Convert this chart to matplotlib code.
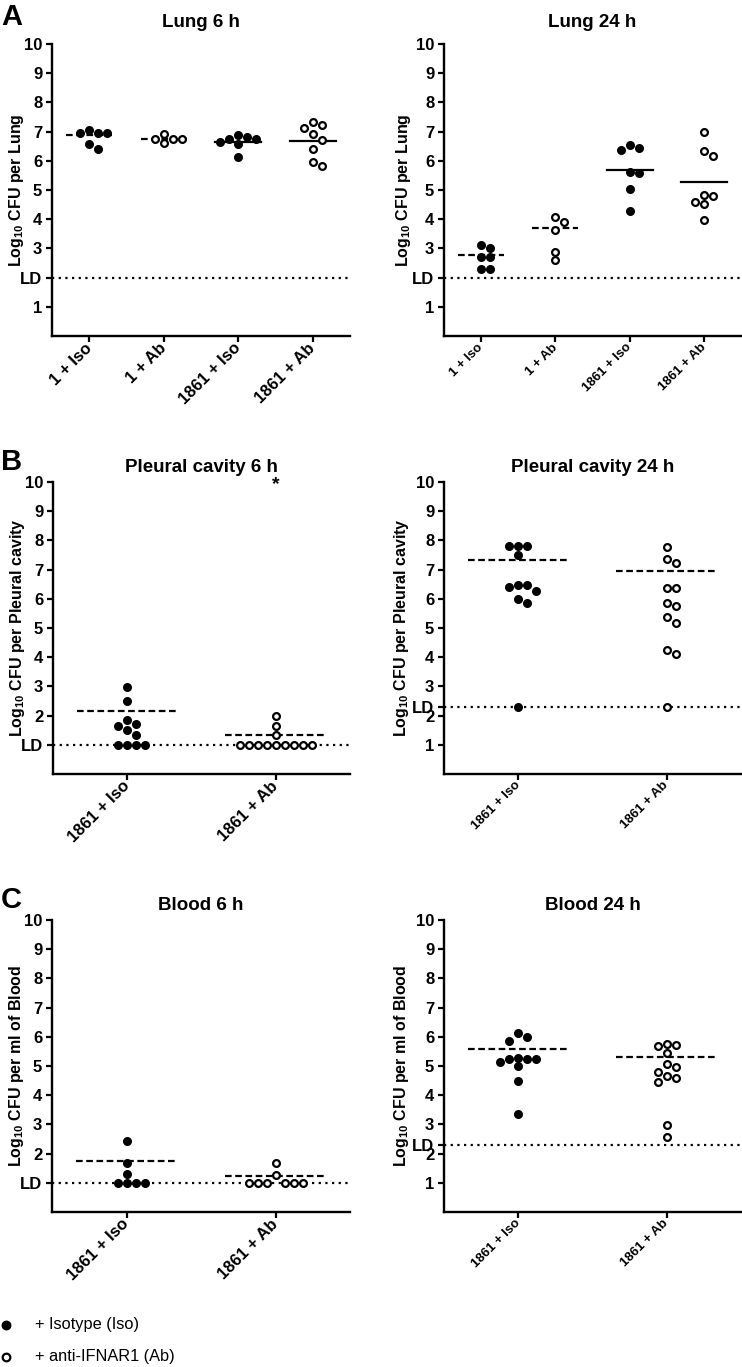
import numpy as np
import matplotlib
matplotlib.use("Agg")
import matplotlib.pyplot as plt
from matplotlib.lines import Line2D

plt.rcParams["font.family"] = ["Liberation Sans", "DejaVu Sans"]
plt.rcParams["font.weight"] = "bold"
plt.rcParams["mathtext.fontset"] = "custom"
plt.rcParams["mathtext.rm"] = "Liberation Sans:bold"
plt.rcParams["mathtext.it"] = "Liberation Sans:bold"
plt.rcParams["mathtext.bf"] = "Liberation Sans:bold"

# ---- data (log10 CFU) ----
lung_groups = ["1 + Iso", "1 + Ab", "1861 + Iso", "1861 + Ab"]
pair_groups = ["1861 + Iso", "1861 + Ab"]

lung_6h = [
    [7.05, 6.95, 6.95, 6.95, 6.58, 6.41],
    [6.93, 6.75, 6.75, 6.75, 6.61],
    [6.90, 6.81, 6.75, 6.75, 6.65, 6.57, 6.13],
    [7.34, 7.22, 7.13, 6.92, 6.70, 6.41, 5.97, 5.82],
]
lung_6h_mean = [6.89, 6.76, 6.65, 6.69]

lung_24h = [
    [3.11, 3.00, 2.70, 2.70, 2.30, 2.30],
    [4.06, 3.89, 3.62, 2.89, 2.59],
    [6.53, 6.43, 6.38, 5.62, 5.58, 5.02, 4.29],
    [6.97, 6.34, 6.16, 4.83, 4.80, 4.59, 4.51, 3.97],
]
lung_24h_mean = [2.78, 3.69, 5.69, 5.27]

pleural_6h = [
    [2.99, 2.49, 1.86, 1.72, 1.64, 1.49, 1.32, 1.0, 1.0, 1.0, 1.0],
    [1.97, 1.63, 1.32, 1.0, 1.0, 1.0, 1.0, 1.0, 1.0, 1.0, 1.0, 1.0],
]
pleural_6h_mean = [2.15, 1.33]

pleural_24h = [
    [7.80, 7.80, 7.80, 7.49, 6.48, 6.48, 6.39, 6.26, 5.98, 5.85, 2.3],
    [7.76, 7.35, 7.24, 6.38, 6.36, 5.84, 5.75, 5.36, 5.18, 4.26, 4.11, 2.3],
]
pleural_24h_mean = [7.32, 6.95]

blood_6h = [
    [2.44, 1.67, 1.30, 1.0, 1.0, 1.0, 1.0],
    [1.67, 1.27, 1.0, 1.0, 1.0, 1.0, 1.0, 1.0],
]
blood_6h_mean = [1.75, 1.22]

blood_24h = [
    [6.14, 5.99, 5.87, 5.29, 5.24, 5.24, 5.24, 5.15, 4.99, 4.50, 3.35],
    [5.76, 5.72, 5.70, 5.45, 5.06, 4.97, 4.78, 4.67, 4.59, 4.44, 2.98, 2.57],
]
blood_24h_mean = [5.58, 5.30]

# detection limits per panel
ld_lung = 2.0
ld_6h = 1.0
ld_24h = 2.3
star_value = 9.9   # off-scale animal in pleural cavity 6 h, Ab group

W, H = 742, 1367
fig = plt.figure(figsize=(W / 100, H / 100), dpi=100)


def add_panel(left, right, top, bottom):
    return fig.add_axes([left / W, 1 - bottom / H, (right - left) / W, (bottom - top) / H])


def swarm_x(ax, x0, values, gap=9.0):
    """Beeswarm-style horizontal spread, computed in pixel space."""
    tr = ax.transData
    px_x = tr.transform((1, 0))[0] - tr.transform((0, 0))[0]
    ys = tr.transform(np.column_stack([np.zeros(len(values)), values]))[:, 1]
    order = np.argsort(-np.asarray(values), kind="stable")
    placed = []
    xs = np.zeros(len(values))
    for i in order:
        k = 0
        while True:
            slot = ((k + 1) // 2) * (1 if k % 2 else -1)
            cx = slot * gap
            if all(np.hypot(cx - px, ys[i] - py) >= gap * 0.95 for px, py in placed):
                break
            k += 1
        placed.append((cx, ys[i]))
        xs[i] = cx
    return x0 + xs / px_x


def style_axes(ax, groups, ld, ylabel, title, ticksize, yticks, yticklabels, pad,
               label_x=-0.088):
    ax.set_xlim(-0.5, len(groups) - 0.5)
    ax.set_ylim(0, 10)
    for s in ("top", "right"):
        ax.spines[s].set_visible(False)
    for s in ("left", "bottom"):
        ax.spines[s].set_linewidth(1.7)
    ax.tick_params(direction="out", length=4.5, width=1.6, labelsize=12, pad=2.5)
    ax.set_yticks(yticks)
    ax.set_yticklabels(yticklabels, fontweight="bold")
    ax.set_xticks(range(len(groups)))
    ax.set_xticklabels(groups, rotation=45, ha="right", va="center",
                       rotation_mode="anchor", fontsize=ticksize, fontweight="bold")
    ax.set_ylabel(ylabel, fontsize=11.5, fontweight="bold")
    ax.yaxis.set_label_coords(label_x, 0.5)
    ax.set_title(title, fontsize=13.5, fontweight="bold", pad=pad)
    ax.axhline(ld, color="black", lw=1.6, linestyle=(0, (1, 2)), zorder=1)


def draw_groups(ax, data, means, open_flags, solid_flags, half=0.32):
    for i, (vals, m) in enumerate(zip(data, means)):
        ls = "-" if solid_flags[i] else (0, (3, 1.6))
        ax.plot([i - half, i + half], [m, m], color="black", lw=1.6,
                linestyle=ls, zorder=2)
        xs = swarm_x(ax, i, vals)
        if open_flags[i]:
            ax.scatter(xs, vals, s=24, facecolor="white", edgecolor="black",
                       linewidth=1.6, zorder=3, clip_on=False)
        else:
            ax.scatter(xs, vals, s=30, color="black", zorder=3, clip_on=False)


int_ticks = list(range(1, 11))
lung_labels = ["1", "LD"] + [str(v) for v in range(3, 11)]
low_labels = ["LD"] + [str(v) for v in range(2, 11)]

# ---- A: lung ----
ax = add_panel(52, 350, 44, 336)
style_axes(ax, lung_groups, ld_lung, r"Log$_{10}$ CFU per Lung", "Lung 6 h", 12,
           int_ticks, lung_labels, pad=12)
draw_groups(ax, lung_6h, lung_6h_mean, [False, True, False, True],
            [False, False, True, True], half=0.31)

ax = add_panel(444, 741, 44, 336)
style_axes(ax, lung_groups, ld_lung, r"Log$_{10}$ CFU per Lung", "Lung 24 h", 9.5,
           int_ticks, lung_labels, pad=12, label_x=-0.105)
draw_groups(ax, lung_24h, lung_24h_mean, [False, True, False, True],
            [False, False, True, True], half=0.31)

# ---- B: pleural cavity ----
ax = add_panel(53, 350, 482, 774)
style_axes(ax, pair_groups, ld_6h, r"Log$_{10}$ CFU per Pleural cavity",
           "Pleural cavity 6 h", 12, int_ticks, low_labels, pad=7)
draw_groups(ax, pleural_6h, pleural_6h_mean, [False, True], [False, False], half=0.34)
ax.text(1, star_value, "*", ha="center", va="center", fontsize=14, fontweight="bold")

ax = add_panel(444, 741, 482, 774)
style_axes(ax, pair_groups, ld_24h, r"Log$_{10}$ CFU per Pleural cavity",
           "Pleural cavity 24 h", 9.5, int_ticks + [ld_24h],
           [str(v) for v in int_ticks] + ["LD"], pad=7, label_x=-0.11)
draw_groups(ax, pleural_24h, pleural_24h_mean, [False, True], [False, False], half=0.34)

# ---- C: blood ----
ax = add_panel(52, 350, 920, 1212)
style_axes(ax, pair_groups, ld_6h, r"Log$_{10}$ CFU per ml of Blood",
           "Blood 6 h", 12, int_ticks, low_labels, pad=7)
draw_groups(ax, blood_6h, blood_6h_mean, [False, True], [False, False], half=0.34)

ax = add_panel(444, 741, 920, 1212)
style_axes(ax, pair_groups, ld_24h, r"Log$_{10}$ CFU per ml of Blood",
           "Blood 24 h", 9.5, int_ticks + [ld_24h],
           [str(v) for v in int_ticks] + ["LD"], pad=7, label_x=-0.11)
draw_groups(ax, blood_24h, blood_24h_mean, [False, True], [False, False], half=0.34)

# panel letters
for letter, ypx in (("A", 25), ("B", 470), ("C", 908)):
    fig.text(1 / W, 1 - ypx / H, letter, fontsize=21, fontweight="bold",
             ha="left", va="baseline")

# key at the bottom
for ypx, filled, label in ((1325, True, "+ Isotype (Iso)"),
                           (1357, False, "+ anti-IFNAR1 (Ab)")):
    fig.add_artist(Line2D([6 / W], [1 - ypx / H], transform=fig.transFigure,
                          marker="o", markersize=5.5,
                          markerfacecolor="black" if filled else "white",
                          markeredgecolor="black", markeredgewidth=1.6,
                          linestyle="none"))
    fig.text(35 / W, 1 - ypx / H, label, fontsize=11.8, fontweight="normal",
             ha="left", va="center")

fig.savefig("out.png", dpi=100)
